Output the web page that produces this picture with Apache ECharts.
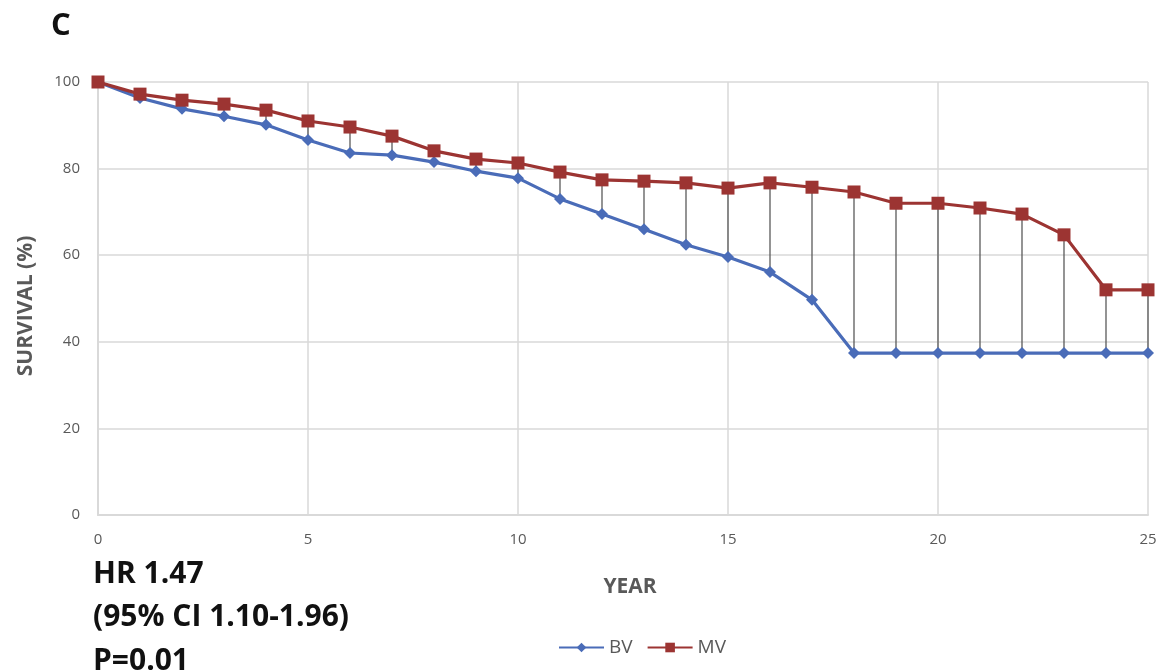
<!DOCTYPE html>
<html>
<head>
<meta charset="utf-8">
<script src="https://cdn.jsdelivr.net/npm/echarts@6/dist/echarts.min.js"></script>
<style>
  html, body { margin: 0; padding: 0; background: #fff; }
  #chart { width: 1162px; height: 672px; }
</style>
</head>
<body>
<div id="chart"></div>
<script>
const years = [0,1,2,3,4,5,6,7,8,9,10,11,12,13,14,15,16,17,18,19,20,21,22,23,24,25];
const bv = [100,96.3,93.8,92.1,90.1,86.6,83.6,83.1,81.5,79.4,77.8,73.0,69.5,66.0,62.4,59.6,56.1,49.7,37.4,37.4,37.4,37.4,37.4,37.4,37.4,37.4];
const mv = [100,97.2,95.8,94.9,93.5,91.0,89.6,87.5,84.1,82.2,81.3,79.2,77.4,77.1,76.7,75.5,76.7,75.7,74.6,72.0,72.0,70.9,69.5,64.7,52.0,52.0];
const yTicks = [0,20,40,60,80,100];

const chart = echarts.init(document.getElementById('chart'));

// high-low lines between the two curves
const hiLo = years.map((x, i) => [x, bv[i], mv[i]]);

const bold = (px) => 'bold ' + px + 'px "Open Sans"';

chart.setOption({
  animation: false,
  textStyle: { fontFamily: 'Open Sans' },
  grid: { left: 98, right: 14, top: 82, bottom: 157 },
  graphic: [
    { type: 'text', left: 51, top: 11, style: { text: 'C', font: bold(31), fill: '#111' } },
    { type: 'text', x: 26, y: 306, rotation: Math.PI / 2,
      style: { text: 'SURVIVAL (%)', font: bold(21), fill: '#595959', align: 'center', verticalAlign: 'middle' } },
    { type: 'text', x: 630, y: 587,
      style: { text: 'YEAR', font: bold(21), fill: '#595959', align: 'center', verticalAlign: 'middle' } },
    { type: 'text', left: 93, top: 559, style: { text: 'HR 1.47', font: bold(30), fill: '#111' } },
    { type: 'text', left: 93, top: 602, style: { text: '(95% CI 1.10-1.96)', font: bold(30), fill: '#111' } },
    { type: 'text', left: 93, top: 646, style: { text: 'P=0.01', font: bold(30), fill: '#111' } }
  ],
  legend: {
    data: ['BV', 'MV'],
    left: 553, top: 633,
    itemWidth: 45, itemHeight: 12, itemGap: 14,
    textStyle: { color: '#595959', fontSize: 19 }
  },
  xAxis: {
    type: 'value', min: 0, max: 25, interval: 5,
    axisLine: { show: true, lineStyle: { color: '#d9d9d9', width: 2 } },
    axisTick: { show: false },
    axisLabel: { color: '#595959', fontSize: 15, margin: 17 },
    splitLine: { show: true, lineStyle: { color: '#d9d9d9', width: 1.5 } }
  },
  yAxis: {
    type: 'value', min: 0, max: 100, interval: 20,
    axisLine: { show: true, lineStyle: { color: '#d9d9d9', width: 2 } },
    axisTick: { show: false },
    axisLabel: { color: '#595959', fontSize: 15, margin: 18,
      formatter: v => yTicks.includes(v) ? String(v) : '' },
    splitLine: { show: true, lineStyle: { color: '#d9d9d9', width: 1.5 } }
  },
  series: [
    {
      type: 'custom',
      silent: true,
      data: hiLo,
      z: 1,
      renderItem: (params, api) => {
        const lo = api.coord([api.value(0), api.value(1)]);
        const hi = api.coord([api.value(0), api.value(2)]);
        return {
          type: 'line',
          shape: { x1: lo[0], y1: lo[1], x2: hi[0], y2: hi[1] },
          style: { stroke: '#5a5a5a', lineWidth: 1.3 }
        };
      }
    },
    {
      name: 'BV', type: 'line', z: 3,
      data: years.map((x, i) => [x, bv[i]]),
      symbol: 'diamond', symbolSize: 12,
      lineStyle: { color: '#4a6cb8', width: 3.2 },
      itemStyle: { color: '#4a6cb8' }
    },
    {
      name: 'MV', type: 'line', z: 4,
      data: years.map((x, i) => [x, mv[i]]),
      symbol: 'rect', symbolSize: 13,
      lineStyle: { color: '#9c3432', width: 3.2 },
      itemStyle: { color: '#9c3432' }
    }
  ]
});
</script>
</body>
</html>
